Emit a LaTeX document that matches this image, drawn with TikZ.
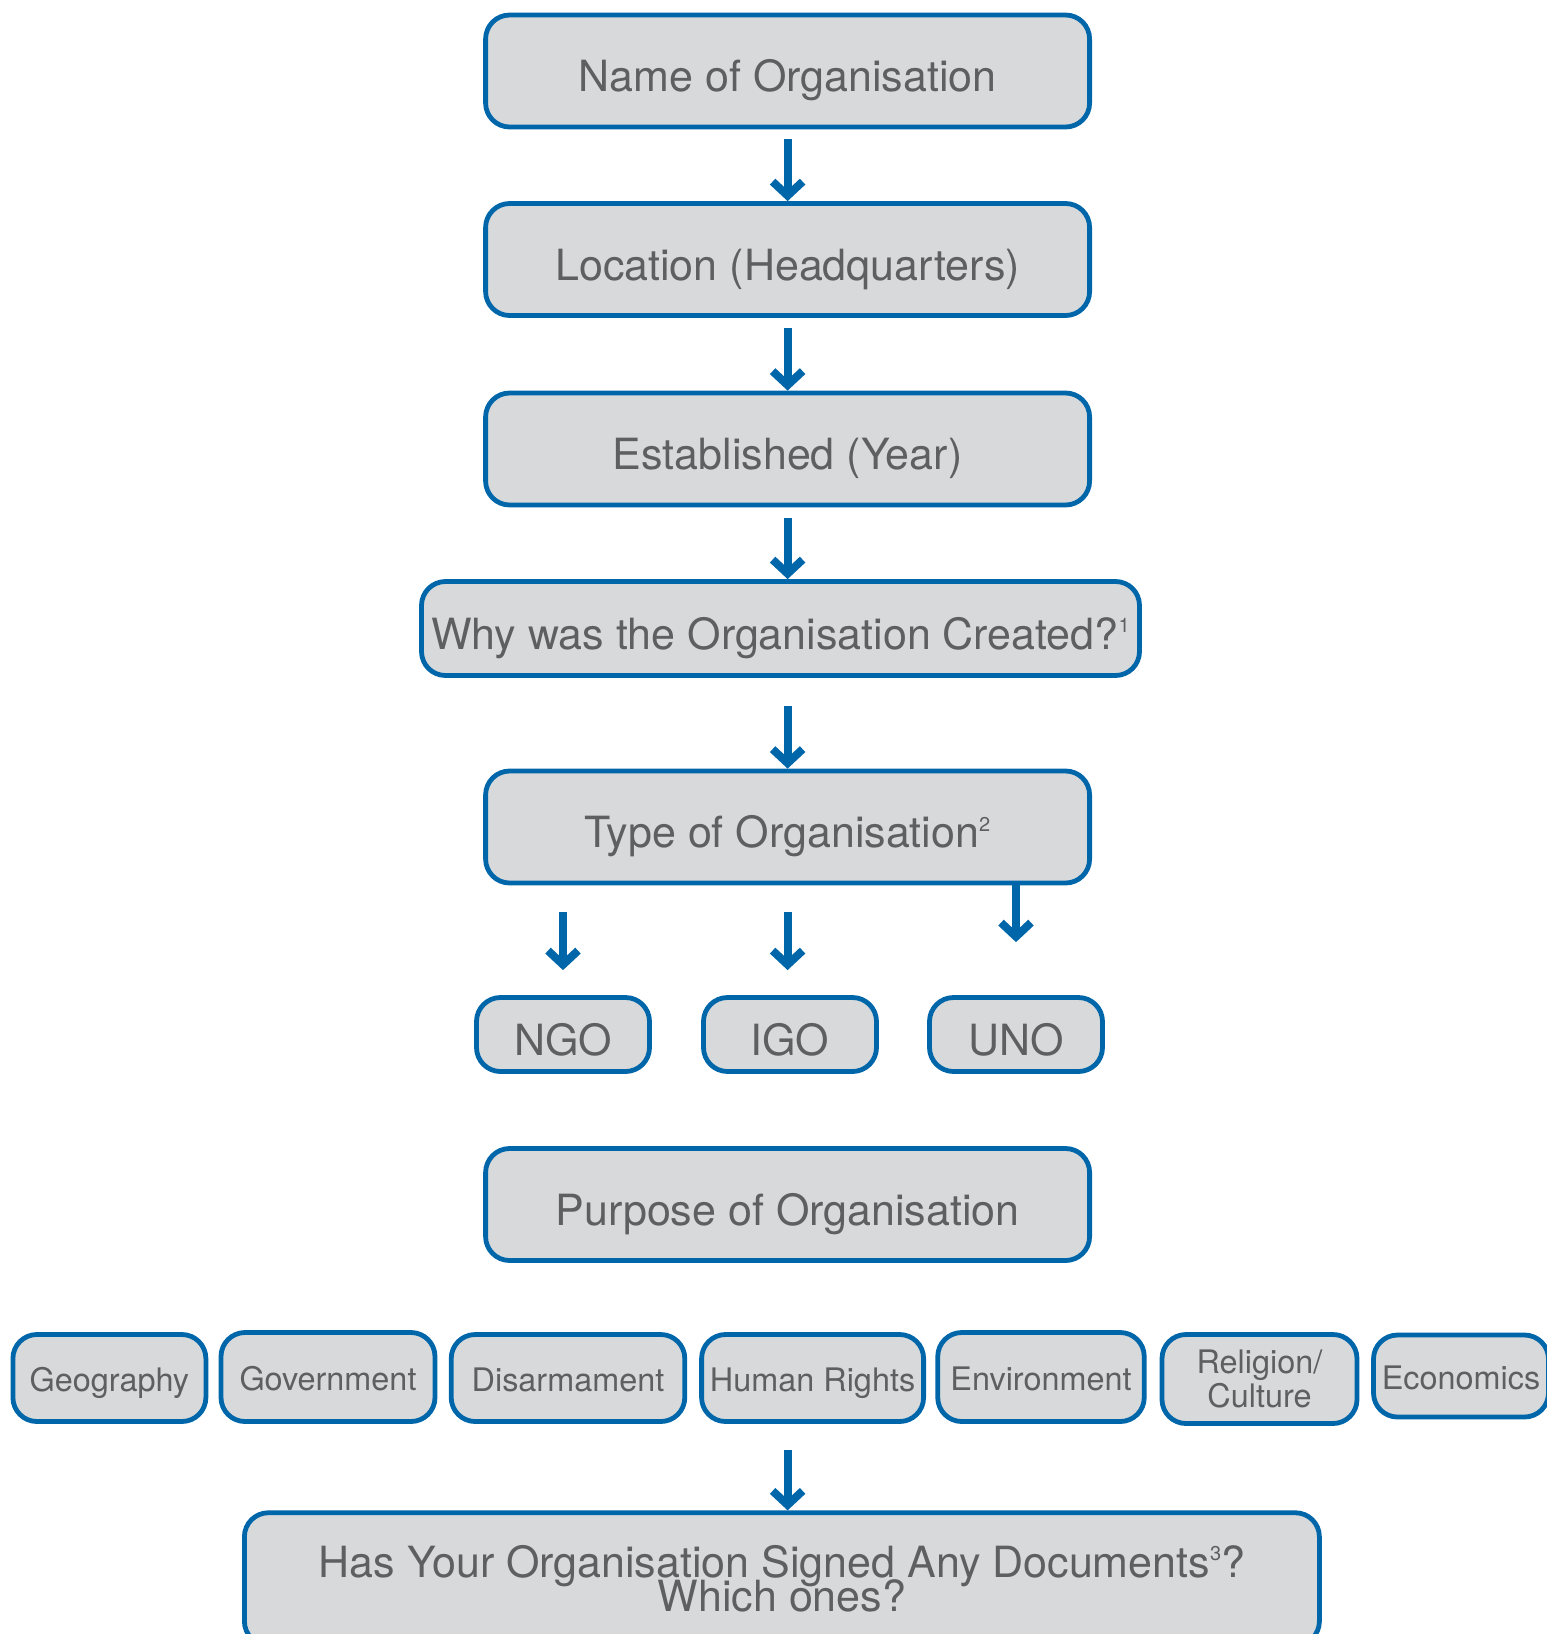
\documentclass[tikz,border=0pt]{standalone}
\usepackage{fontspec}
\setmainfont{TeX Gyre Heros}
\usetikzlibrary{arrows.meta,positioning}
\definecolor{boxblue}{RGB}{0,102,170}
\definecolor{boxgrey}{RGB}{216,217,219}
\definecolor{textgrey}{RGB}{94,95,97}
\newcommand\supnum[1]{\raisebox{8.3pt}{\fontsize{10}{10}\selectfont #1}}
\newcommand\tightlines{\lineskiplimit-50pt\relax}
\tikzset{
  box/.style={draw=boxblue,fill=boxgrey,line width=2.4pt,rounded corners=12pt,inner sep=0pt,
    text=textgrey,font=\fontsize{21.5}{17.2}\selectfont\tightlines,
    text height=23pt,text depth=2.4pt},
  bigbox/.style={box,minimum width=302pt,minimum height=56pt},
  typebox/.style={box,minimum width=86.5pt,minimum height=37pt},
  topicbox/.style={box,minimum height=43.5pt,font=\fontsize{16.2}{16.8}\selectfont,
    text height=15pt,text depth=1.2pt},
  arr/.style={draw=boxblue,line width=4pt,-{Straight Barb[length=7pt,width=15pt]}}
}
\begin{document}
\begin{tikzpicture}[x=0.5pt,y=-0.5pt]
\useasboundingbox (0,0) rectangle (1547,1634);
% main column
\node[bigbox] (name) at (787.6,71) {Name of Organisation};
\node[bigbox] (loc) at (787.6,259.5) {Location (Headquarters)};
\node[bigbox] (est) at (787.6,449) {Established (Year)};
\node[box,minimum width=359pt,minimum height=47pt] (why) at (780.5,628.5)
  {Why was the Organisation Created?\supnum{1}};
\node[bigbox] (type) at (787.6,827) {Type of Organisation\supnum{2}};
% types
\node[typebox] (ngo) at (563,1034.5) {NGO};
\node[typebox] (igo) at (790,1034.5) {IGO};
\node[typebox] (uno) at (1016,1034.5) {UNO};
\node[bigbox] (purpose) at (787.6,1204.5) {Purpose of Organisation};
% topics
\node[topicbox,minimum width=96.5pt] (geo) at (109.4,1378) {Geography};
\node[topicbox,minimum width=107pt,minimum height=44.5pt] (gov) at (328,1377) {Government};
\node[topicbox,minimum width=116.8pt] (dis) at (568,1378) {Disarmament};
\node[topicbox,minimum width=111pt] (hr) at (812.6,1378) {Human Rights};
\node[topicbox,minimum width=103.25pt,minimum height=44.5pt] (env) at (1041,1377) {Environment};
\node[topicbox,minimum width=97.5pt,minimum height=44.5pt,text height=,text depth=,align=center]
  (rel) at (1259.5,1379) {Religion/\\Culture};
\node[topicbox,minimum width=87.5pt,minimum height=41pt] (eco) at (1461,1376) {Economics};
\node[box,minimum width=537.5pt,minimum height=66.25pt,text height=,text depth=,align=center]
  (signed) at (781.9,1579) {Has Your Organisation Signed Any Documents\supnum{3}?\\Which ones?};
% arrows
\draw[arr,shorten <=4.75pt] (name) -- (loc);
\draw[arr,shorten <=5pt] (loc) -- (est);
\draw[arr,shorten <=5.5pt] (est) -- (why.north -| est);
\draw[arr,shorten <=14pt] (why.south -| type) -- (type);
\draw[arr,shorten <=13.5pt,shorten >=12.5pt] (type.south -| ngo) -- (ngo);
\draw[arr,shorten <=13.5pt,shorten >=12.5pt] (type.south -| type) -- (igo.north -| type);
\draw[arr,shorten >=26.5pt] (type.south -| uno) -- (uno);
\draw[arr,shorten <=93.5pt] (purpose) -- (signed.north -| purpose);
\end{tikzpicture}
\end{document}
